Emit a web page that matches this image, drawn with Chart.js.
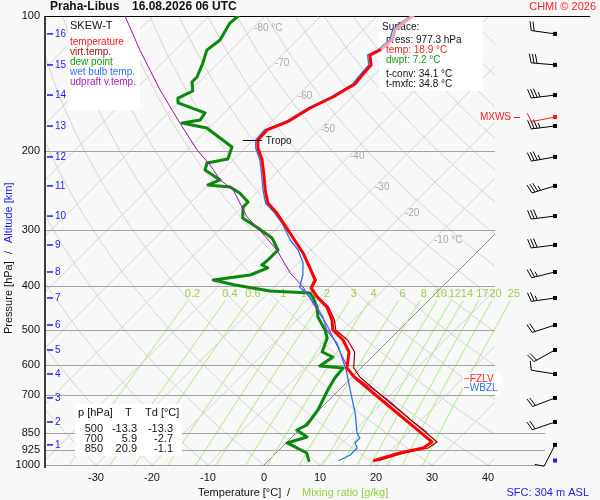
<!DOCTYPE html>
<html>
<head>
<meta charset="utf-8">
<script src="https://cdn.jsdelivr.net/npm/chart.js@4.4.1/dist/chart.umd.min.js"></script>
<style>
  html, body { margin: 0; padding: 0; background: #f8f8f8; }
  canvas { display: block; }
</style>
</head>
<body>
<canvas id="skewt" width="600" height="500"></canvas>
<script>
// ---- sounding values ---------------------------------------------------
var pressureTicks = [100, 200, 300, 400, 500, 600, 700, 850, 925, 1000];
var tempTicks = [-30, -20, -10, 0, 10, 20, 30, 40];
var mixRatios = [0.2, 0.4, 0.6, 1, 1.5, 2, 3, 4, 6, 8, 10, 12, 14, 17, 20, 25];
var isoLabelT = [-80, -70, -60, -50, -40, -30, -20, -10];
var isoLabelP = [106.3, 127.3, 150.8, 178.8, 205, 240.3, 274.7, 315.4];

// temperature (and virtual temperature on the same levels)
var tempP = [100, 103.7, 107.5, 113.1, 119.1, 122.2, 128.6, 135.3, 141.7, 151.5, 160.3, 172.2, 179.4, 188.9, 196.8,
  209.3, 226.0, 244.0, 260.9, 274.7, 304.3, 337.1, 364.0, 387.3, 403.5, 422.6, 444.8, 475.5, 500.4, 526.7, 560.1,
  608.1, 636.8, 720.2, 850, 888.8, 916.6, 940.4, 977.3];
var tempT = [-53.6, -54.1, -54.3, -53.0, -53.4, -54.3, -52.3, -52.1, -51.8, -53.4, -55.5, -57.1, -59.3, -59.1, -57.7,
  -54.8, -51.8, -48.9, -46.1, -42.7, -36.8, -30.9, -27.0, -23.9, -23.2, -20.5, -17.0, -13.75, -11.8, -8.2, -5.0,
  -2.5, 0.4, 9.8, 22.5, 25.9, 25.4, 22.1, 18.9];
var virtT = [-53.6, -54.1, -54.3, -53.0, -53.4, -54.3, -52.3, -52.1, -51.8, -53.4, -55.5, -57.1, -59.3, -59.1, -57.7,
  -54.8, -51.8, -48.9, -46.1, -42.7, -36.7, -30.8, -26.9, -23.7, -23.0, -20.3, -16.7, -13.3, -11.3, -7.4, -4.0,
  -1.3, 1.4, 10.7, 23.4, 26.8, 26.3, 22.9, 19.7];

// dew point
var dewP = [100, 103.7, 113.1, 119.1, 127.3, 136.7, 140.3, 146.9, 152.3, 156.2, 164.4, 170.4, 173.1, 177.6, 186.9,
  195.8, 208.2, 212.5, 220.3, 231.8, 237.8, 240.3, 247.9, 259.6, 266.4, 281.8, 296.6, 312.2, 332.0, 349.4, 358.6,
  364.0, 377.4, 387.3, 397.2, 409.8, 414.0, 422.6, 444.8, 468.2, 500.4, 521.3, 560.1, 574.7, 601.8, 608.1, 640.0,
  680.8, 716.4, 754.2, 814.6, 835.6, 866.3, 893.1, 940.4, 977.3];
var dewT = [-84.8, -85.0, -83.75, -84.3, -82.7, -81.25, -81.25, -79.5, -80.9, -80.0, -73.4, -73.0, -75.7, -70.4, -66.25,
  -62.5, -61.1, -64.1, -63.2, -58.75, -60.0, -55.7, -52.9, -49.8, -49.8, -47.9, -43.4, -39.1, -35.9, -35.9, -36.1,
  -34.5, -36.4, -42.1, -37.3, -30.0, -22.5, -21.25, -18.75, -16.8, -13.2, -11.4, -9.8, -7.0, -7.7, -3.2, -2.9,
  -2.0, -1.1, -0.2, 0.5, -0.4, 2.7, 0.2, 5.5, 7.2];

// wet bulb temperature
var wetP = [100, 103.7, 107.5, 113.1, 119.1, 122.2, 128.6, 135.3, 141.7, 151.5, 160.3, 172.2, 179.4, 188.9, 196.8,
  209.3, 226.0, 244.0, 260.9, 274.7, 289.1, 315.4, 332.0, 354.9, 377.4, 401.4, 422.6, 444.8, 468.2, 500.4, 535.0,
  574.7, 614.3, 680.8, 766.0, 848.8, 870.9, 893.1, 916.6, 950.0, 977.3];
var wetT = [-54.0, -54.5, -54.7, -53.4, -53.8, -54.7, -52.7, -52.5, -52.2, -53.8, -55.9, -57.5, -59.7, -59.5, -58.1,
  -55.2, -52.2, -49.3, -46.5, -43.1, -40.0, -35.5, -32.3, -29.1, -27.0, -25.4, -21.8, -18.75, -15.9, -12.9, -8.75,
  -5.4, -2.3, 2.0, 7.0, 10.9, 12.3, 12.3, 13.6, 13.6, 12.6];

// updraft parcel virtual temperature
var parcelP = [100, 119.1, 146.2, 173.1, 198.8, 214.7, 231.8, 244.0, 280.4, 295.1, 332.0, 373.6, 401.4, 435.8, 487.8,
  546.1, 589.7, 623.8, 716.4, 798.0, 844.2];
var parcelT = [-105.0, -96.25, -85.5, -76.1, -68.2, -63.2, -58.75, -54.6, -47.3, -43.75, -36.1, -29.6, -24.8, -20.2,
  -13.75, -7.9, -3.9, -1.1, 10.6, 18.6, 23.2];

// altitude marks (km) and the winds plotted at them
var altKm = [1, 2, 3, 4, 5, 6, 7, 8, 9, 10, 11, 12, 13, 14, 15, 16];
var altP = [902, 802, 709, 627, 554.4, 487.8, 424.7, 371.6, 323.6, 279, 239, 206, 175.8, 150, 128.5, 109.6];
var windDir = [207, 251, 249, 279, 241, 252, 262, 256, 263, 263, 253, 260, 263, 263, 275, 278];
var windSpd = [10, 20, 20, 10, 20, 20, 25, 25, 30, 30, 35, 35, 35, 35, 30, 20];
var mxwsP = 167.9, mxwsDir = 259, mxwsSpd = 10;

var tropoP = 188.5, tropoT = -59.2;
var fzlvP = 643, wbzlP = 674;

var sfcP = 977.3, sfcT = 18.9, sfcTd = 7.2, tConv = 34.1, tMxfc = 34.8, sfcElev = 304;
var tableP = [500, 700, 850];
var tableT = [-13.3, 5.9, 20.9];
var tableTd = [-13.3, -2.7, -1.1];

// ---- skew-T geometry -----------------------------------------------------
var SKEW = 449 / 5.6;   // x shift (in deg C) per decade of pressure: 45 degree isotherms
function skewX(t, p) { return t + SKEW * Math.log10(1000 / p); }
function pts(ps, ts) { return ps.map(function (p, i) { return { x: skewX(ts[i], p), y: p }; }); }

var FONT = 'Liberation Sans, Arial, Helvetica, sans-serif';
Chart.defaults.font.family = FONT;

function txt(ctx, s, x, y, color, size, align, bold) {
  ctx.font = (bold ? 'bold ' : '') + size + 'px ' + FONT;
  ctx.fillStyle = color;
  ctx.textAlign = align || 'left';
  ctx.textBaseline = 'middle';
  ctx.fillText(s, x, y);
}

function mixT(w, p) {
  var e = w * p / (622 + w), l = Math.log(e / 6.112);
  return 243.5 * l / (17.67 - l);
}

function drawBarb(ctx, x, y, dir, spd, color) {
  var r = dir * Math.PI / 180;
  var ux = Math.sin(r), uy = -Math.cos(r);
  var nx = -uy, ny = ux;
  var L = 24, tx = x + ux * L, ty = y + uy * L;
  ctx.strokeStyle = color;
  ctx.lineWidth = 1;
  ctx.beginPath();
  ctx.moveTo(x, y); ctx.lineTo(tx, ty);
  var rest = Math.round(spd / 5) * 5, pos = 0;
  while (rest >= 10) {
    var bx = tx - ux * pos, by = ty - uy * pos;
    ctx.moveTo(bx, by); ctx.lineTo(bx + nx * 9 + ux * 2.5, by + ny * 9 + uy * 2.5);
    rest -= 10; pos += 3;
  }
  if (rest >= 5) {
    if (pos === 0) pos = 3;
    var hx = tx - ux * pos, hy = ty - uy * pos;
    ctx.moveTo(hx, hy); ctx.lineTo(hx + nx * 5 + ux * 1.4, hy + ny * 5 + uy * 1.4);
  }
  ctx.stroke();
  ctx.fillStyle = color;
  ctx.fillRect(x - 2, y - 2, 4, 4);
}

var backdrop = {
  id: 'backdrop',
  beforeDraw: function (chart) {
    var ctx = chart.ctx;
    ctx.save();
    ctx.fillStyle = '#f8f8f8';
    ctx.fillRect(0, 0, chart.width, chart.height);
    ctx.restore();
  },
  beforeDatasetsDraw: function (chart) {
    var ctx = chart.ctx, a = chart.chartArea, xs = chart.scales.x, ys = chart.scales.y;
    function X(t, p) { return xs.getPixelForValue(skewX(t, p)); }
    function Y(p) { return ys.getPixelForValue(p); }
    ctx.save();

    // isotherms and dry adiabats
    ctx.save();
    ctx.beginPath(); ctx.rect(a.left, a.top, a.right - a.left, a.bottom - a.top); ctx.clip();
    ctx.lineWidth = 1;
    ctx.strokeStyle = '#d6d6d6';
    for (var th = -40; th <= 200; th += 10) {
      ctx.beginPath();
      for (var p = 1000; p >= 100; p -= 20) {
        var t = (th + 273.15) * Math.pow(p / 1000, 0.2857) - 273.15;
        if (p === 1000) ctx.moveTo(X(t, p), Y(p)); else ctx.lineTo(X(t, p), Y(p));
      }
      ctx.stroke();
    }
    for (var it = -140; it <= 40; it += 10) {
      ctx.strokeStyle = it === 0 ? '#8c8c8c' : '#d6d6d6';
      ctx.beginPath();
      ctx.moveTo(X(it, 1000), Y(1000));
      ctx.lineTo(X(it, 100), Y(100));
      ctx.stroke();
    }
    ctx.restore();

    // mixing ratio lines
    ctx.save();
    ctx.beginPath(); ctx.rect(a.left, a.top, 530 - a.left, a.bottom - a.top); ctx.clip();
    ctx.strokeStyle = '#aeec8a';
    ctx.lineWidth = 1;
    mixRatios.forEach(function (w) {
      ctx.beginPath();
      [430, 520, 620, 740, 870, 1000].forEach(function (p, i) {
        if (i === 0) ctx.moveTo(X(mixT(w, p), p), Y(p)); else ctx.lineTo(X(mixT(w, p), p), Y(p));
      });
      ctx.stroke();
    });
    ctx.restore();
    mixRatios.forEach(function (w) {
      txt(ctx, String(w), X(mixT(w, 416), 416), Y(416), '#9cd24e', 11, 'center');
    });

    // pressure lines
    ctx.lineWidth = 1;
    pressureTicks.forEach(function (p) {
      var y = Math.round(Y(p)) + 0.5;
      ctx.strokeStyle = p === 100 ? '#000' : '#a4a4a4';
      ctx.beginPath();
      ctx.moveTo(a.left, y);
      ctx.lineTo(p === 100 ? 590 : (p >= 850 ? 545 : a.right), y);
      ctx.stroke();
    });

    // isotherm labels
    isoLabelT.forEach(function (t, i) {
      var s = (i === 0 || i === isoLabelT.length - 1) ? t + ' \u00b0C' : String(t);
      txt(ctx, s, X(t, isoLabelP[i]) + 1, Y(isoLabelP[i]), '#a8a8a8', 10, 'left');
    });

    // legend box
    ctx.fillStyle = '#ffffff';
    ctx.fillRect(68, 17, 72, 93);
    txt(ctx, 'SKEW-T', 70, 26, '#111', 11);
    txt(ctx, 'temperature', 70, 42, '#ff1a1a', 10);
    txt(ctx, 'virt.temp.', 70, 52, '#a01010', 10);
    txt(ctx, 'dew point', 70, 62, '#139a13', 10);
    txt(ctx, 'wet bulb temp.', 70, 72, '#2f6ff0', 10);
    txt(ctx, 'udpraft v.temp.', 70, 82, '#b21ab8', 10);

    // surface box
    ctx.fillStyle = '#ffffff';
    ctx.fillRect(379, 17, 104, 74);
    txt(ctx, 'Surface:', 382, 27, '#111', 10);
    txt(ctx, 'press: ' + sfcP.toFixed(1) + ' hPa', 386, 40, '#111', 10);
    txt(ctx, 'temp: ' + sfcT.toFixed(1) + ' \u00b0C', 386, 50, '#ff2020', 10);
    txt(ctx, 'dwpt: ' + sfcTd.toFixed(1) + ' \u00b0C', 386, 60, '#1a9a1a', 10);
    txt(ctx, 't-conv: ' + tConv.toFixed(1) + ' \u00b0C', 386, 74, '#111', 10);
    txt(ctx, 't-mxfc: ' + tMxfc.toFixed(1) + ' \u00b0C', 386, 84, '#111', 10);

    // level table
    ctx.fillStyle = '#ffffff';
    ctx.fillRect(75, 404, 107, 52);
    txt(ctx, 'p [hPa]', 78, 413, '#111', 11);
    txt(ctx, 'T', 125, 413, '#111', 11);
    txt(ctx, 'Td [\u00b0C]', 145, 413, '#111', 11);
    tableP.forEach(function (p, i) {
      var y = 429 + i * 10;
      txt(ctx, String(p), 103, y, '#111', 11, 'right');
      txt(ctx, tableT[i].toFixed(1), 137, y, '#111', 11, 'right');
      txt(ctx, tableTd[i].toFixed(1), 173, y, '#111', 11, 'right');
    });
    ctx.restore();
  },
  afterDatasetsDraw: function (chart) {
    var ctx = chart.ctx, a = chart.chartArea, xs = chart.scales.x, ys = chart.scales.y;
    function X(t, p) { return xs.getPixelForValue(skewX(t, p)); }
    function Y(p) { return ys.getPixelForValue(p); }
    ctx.save();

    // left axis
    ctx.strokeStyle = '#000';
    ctx.lineWidth = 1.5;
    ctx.beginPath(); ctx.moveTo(a.left, a.top); ctx.lineTo(a.left, a.bottom + 3); ctx.stroke();

    // tropopause
    var ty = Math.round(Y(tropoP)) + 0.5, tx = X(tropoT, tropoP);
    ctx.lineWidth = 1;
    ctx.beginPath(); ctx.moveTo(tx - 15, ty); ctx.lineTo(tx + 4, ty); ctx.stroke();
    txt(ctx, 'Tropo', tx + 8, ty + 1, '#111', 10);

    // freezing / wet-bulb zero levels
    ctx.fillStyle = '#ffffff';
    ctx.fillRect(463, Y(fzlvP) - 6, 38, 22);
    txt(ctx, '\u2212FZLV', 464, Y(fzlvP), '#ff1a1a', 10);
    txt(ctx, '\u2212WBZL', 464, Y(wbzlP), '#2f6ff0', 10);

    // altitude marks
    altKm.forEach(function (k, i) {
      var y = Y(altP[i]);
      ctx.strokeStyle = '#1a1aff';
      ctx.lineWidth = 1.5;
      ctx.beginPath(); ctx.moveTo(47, y); ctx.lineTo(53, y); ctx.stroke();
      txt(ctx, String(k), 55, y, '#1a1aff', 10);
    });

    // winds
    altP.forEach(function (p, i) { drawBarb(ctx, 555, Y(p), windDir[i], windSpd[i], '#000'); });
    drawBarb(ctx, 555, Y(mxwsP), mxwsDir, mxwsSpd, '#ff1a1a');
    txt(ctx, 'MXWS', 511, Y(mxwsP), '#ff1a1a', 10, 'right');
    ctx.strokeStyle = '#ff1a1a'; ctx.lineWidth = 1;
    ctx.beginPath(); ctx.moveTo(514, Math.round(Y(mxwsP)) + 0.5); ctx.lineTo(520, Math.round(Y(mxwsP)) + 0.5); ctx.stroke();
    ctx.fillStyle = '#1a1aff';
    ctx.fillRect(553, Y(sfcP) - 2, 4, 4);

    // titles
    txt(ctx, 'Praha-Libus', 50, 7, '#111', 12, 'left', true);
    txt(ctx, '16.08.2026 06 UTC', 132, 7, '#111', 12, 'left', true);
    txt(ctx, 'CHMI \u00a9 2026', 596, 7, '#ff2020', 11, 'right');
    txt(ctx, 'Temperature [\u00b0C]', 198, 493, '#111', 11);
    txt(ctx, '/', 287, 493, '#111', 11);
    txt(ctx, 'Mixing ratio [g/kg]', 302, 493, '#8fd13f', 11);
    txt(ctx, 'SFC: ' + sfcElev + ' m ASL', 589, 493, '#2020e0', 11, 'right');

    ctx.translate(9, 0);
    ctx.rotate(-Math.PI / 2);
    txt(ctx, 'Pressure [hPa]', -334, 0, '#111', 11);
    txt(ctx, '/', -254, 0, '#111', 11);
    txt(ctx, 'Altitude [km]', -243, 0, '#1a1aff', 11);
    ctx.restore();
  }
};

var lineBase = { showLine: true, pointRadius: 0, fill: false, tension: 0, borderJoinStyle: 'round', borderCapStyle: 'round' };
function ds(extra) { return Object.assign({}, lineBase, extra); }

new Chart(document.getElementById('skewt'), {
  type: 'scatter',
  data: {
    datasets: [
      ds({ label: 'dew point', data: pts(dewP, dewT), borderColor: '#0a880a', borderWidth: 3, order: 5 }),
      ds({ label: 'udpraft v.temp.', data: pts(parcelP, parcelT), borderColor: '#a010b0', borderWidth: 1, order: 4 }),
      ds({ label: 'wet bulb temp.', data: pts(wetP, wetT), borderColor: '#2f6ff0', borderWidth: 1.3, order: 3 }),
      ds({ label: 'virt.temp.', data: pts(tempP, virtT), borderColor: '#990000', borderWidth: 1.2, order: 2 }),
      ds({
        label: 'temperature', data: pts(tempP, tempT), borderColor: '#ff0000', borderWidth: 3, order: 1,
        segment: { borderColor: function (c) { return c.p0.parsed.y < 119 ? '#f4a3ad' : undefined; } }
      })
    ]
  },
  options: {
    responsive: false,
    animation: false,
    events: [],
    layout: { padding: { top: 16, right: 105, left: 0, bottom: 0 } },
    plugins: { legend: { display: false }, tooltip: { enabled: false } },
    scales: {
      x: {
        type: 'linear', min: -39.107, max: 41.25,
        afterBuildTicks: function (s) { s.ticks = tempTicks.map(function (v) { return { value: v }; }); },
        afterFit: function (s) { s.height = 35; },
        grid: { display: false, drawTicks: false },
        border: { display: false },
        ticks: { color: '#111', font: { size: 11 }, padding: 6, maxRotation: 0, autoSkip: false }
      },
      y: {
        type: 'logarithmic', reverse: true, min: 100, max: 1000,
        afterBuildTicks: function (s) { s.ticks = pressureTicks.map(function (v) { return { value: v }; }); },
        afterFit: function (s) { s.width = 45; },
        grid: { display: false, drawTicks: false },
        border: { display: false },
        ticks: { color: '#111', font: { size: 11 }, padding: 5, autoSkip: false,
                 callback: function (v) { return String(v); } }
      }
    }
  },
  plugins: [backdrop]
});
</script>
</body>
</html>
